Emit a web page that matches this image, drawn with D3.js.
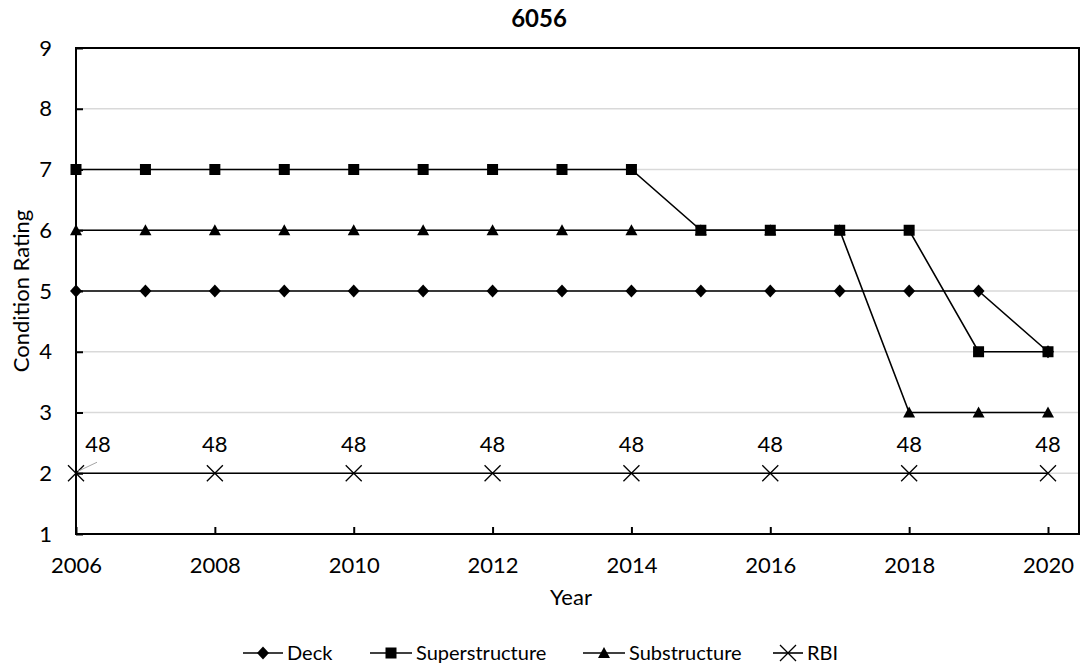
<!DOCTYPE html>
<html>
<head>
<meta charset="utf-8">
<script src="https://cdn.jsdelivr.net/npm/d3@7"></script>
<style>
html,body{margin:0;padding:0;background:#fff;}
svg{display:block;font-family:Lato,"Open Sans",sans-serif;}
</style>
</head>
<body>
<svg id="chart" width="1085" height="668"></svg>
<script>
const title = "6056";
const years = [2006,2007,2008,2009,2010,2011,2012,2013,2014,2015,2016,2017,2018,2019,2020];
const deck =           [5,5,5,5,5,5,5,5,5,5,5,5,5,5,4];
const superstructure = [7,7,7,7,7,7,7,7,7,6,6,6,6,4,4];
const substructure =   [6,6,6,6,6,6,6,6,6,6,6,6,3,3,3];
const rbiYears = [2006,2008,2010,2012,2014,2016,2018,2020];
const rbiPlot =  [2,2,2,2,2,2,2,2];
const rbiLabels = ["48","48","48","48","48","48","48","48"];
const xTicks = [2006,2008,2010,2012,2014,2016,2018,2020];
const yTicks = [1,2,3,4,5,6,7,8,9];
const seriesNames = ["Deck","Superstructure","Substructure","RBI"];

const svg = d3.select("#chart");
const L = 76, R = 1079, T = 48, B = 534;
const x = d3.scaleLinear().domain([2006,2020]).range([L,1048]);
const y = d3.scaleLinear().domain([1,9]).range([B,T]);

// gridlines
svg.append("g").selectAll("line").data(yTicks.filter(v=>v>1&&v<9)).join("line")
  .attr("x1",L).attr("x2",R).attr("y1",d=>y(d)).attr("y2",d=>y(d))
  .attr("stroke","#d9d9d9").attr("stroke-width",1.3);

// frame
svg.append("rect").attr("x",L).attr("y",T).attr("width",R-L).attr("height",B-T)
  .attr("fill","none").attr("stroke","#000").attr("stroke-width",2);

// axes
const xAxis = d3.axisBottom(x).tickValues(xTicks).tickFormat(d3.format("d")).tickSizeInner(-7).tickSizeOuter(0).tickPadding(23);
const gx = svg.append("g").attr("transform",`translate(0,${B})`).call(xAxis);
gx.select(".domain").remove();
gx.selectAll("line").attr("stroke","#000").attr("stroke-width",2);
gx.selectAll("text").attr("font-size",22).attr("fill","#000").attr("font-family","Lato");

const yAxis = d3.axisLeft(y).tickValues(yTicks).tickSizeInner(-7).tickSizeOuter(0).tickPadding(24);
const gy = svg.append("g").attr("transform",`translate(${L},0)`).call(yAxis);
gy.select(".domain").remove();
gy.selectAll("line").attr("stroke","#000").attr("stroke-width",2);
gy.selectAll("text").attr("font-size",22).attr("fill","#000").attr("font-family","Lato");

// title & axis titles
svg.append("text").attr("x",539).attr("y",27).attr("text-anchor","middle")
  .attr("font-size",24).attr("font-weight","bold").text(title);
svg.append("text").attr("x",571).attr("y",605).attr("text-anchor","middle")
  .attr("font-size",22).text("Year");
svg.append("text").attr("transform",`translate(29,${(T+B)/2}) rotate(-90)`).attr("text-anchor","middle")
  .attr("font-size",22).text("Condition Rating");

// symbols
function drawMarker(g, type, cx, cy){
  if(type==="diamond"){
    g.append("path").attr("d",`M${cx},${cy-6.5}L${cx+6},${cy}L${cx},${cy+6.5}L${cx-6},${cy}Z`).attr("fill","#000");
  } else if(type==="square"){
    g.append("rect").attr("x",cx-5.5).attr("y",cy-5.5).attr("width",11).attr("height",11).attr("fill","#000");
  } else if(type==="triangle"){
    g.append("path").attr("d",`M${cx},${cy-6}L${cx+6},${cy+5}L${cx-6},${cy+5}Z`).attr("fill","#000");
  } else if(type==="x"){
    g.append("path").attr("d",`M${cx-8},${cy-8}L${cx+8},${cy+8}M${cx+8},${cy-8}L${cx-8},${cy+8}`)
      .attr("stroke","#000").attr("stroke-width",1.3).attr("fill","none");
  }
}

const line = d3.line().x(d=>x(d[0])).y(d=>y(d[1]));
const series = [
  {vals: years.map((yr,i)=>[yr,deck[i]]), m:"diamond"},
  {vals: years.map((yr,i)=>[yr,superstructure[i]]), m:"square"},
  {vals: years.map((yr,i)=>[yr,substructure[i]]), m:"triangle"},
  {vals: rbiYears.map((yr,i)=>[yr,rbiPlot[i]]), m:"x"}
];
const gs = svg.append("g");
series.forEach(s=>{
  gs.append("path").attr("d",line(s.vals)).attr("fill","none").attr("stroke","#000").attr("stroke-width",1.6);
});
series.forEach(s=>{
  s.vals.forEach(v=>drawMarker(gs, s.m, x(v[0]), y(v[1])));
});

// RBI data labels
const gl = svg.append("g");
rbiYears.forEach((yr,i)=>{
  let dx = i===0 ? 22 : 0;
  if(i===0){
    gl.append("line").attr("x1",x(yr)+2).attr("y1",y(rbiPlot[i])-2).attr("x2",x(yr)+21).attr("y2",y(rbiPlot[i])-11)
      .attr("stroke","#a6a6a6").attr("stroke-width",1);
  }
  gl.append("text").attr("x",x(yr)+dx).attr("y",y(rbiPlot[i])-21).attr("text-anchor","middle")
    .attr("font-size",22).text(rbiLabels[i]);
});

// legend
const legendItems = [
  {name:seriesNames[0], m:"diamond", x:243, w:40},
  {name:seriesNames[1], m:"square", x:370, w:42},
  {name:seriesNames[2], m:"triangle", x:583, w:42},
  {name:seriesNames[3], m:"x", x:773, w:30}
];
const lg = svg.append("g");
const ly = 653;
legendItems.forEach(it=>{
  lg.append("line").attr("x1",it.x).attr("x2",it.x+it.w).attr("y1",ly).attr("y2",ly).attr("stroke","#000").attr("stroke-width",1.6);
  drawMarker(lg, it.m, it.x+it.w/2, ly);
  lg.append("text").attr("x",it.x+it.w+4).attr("y",ly+7).attr("font-size",20).text(it.name);
});
</script>
</body>
</html>
